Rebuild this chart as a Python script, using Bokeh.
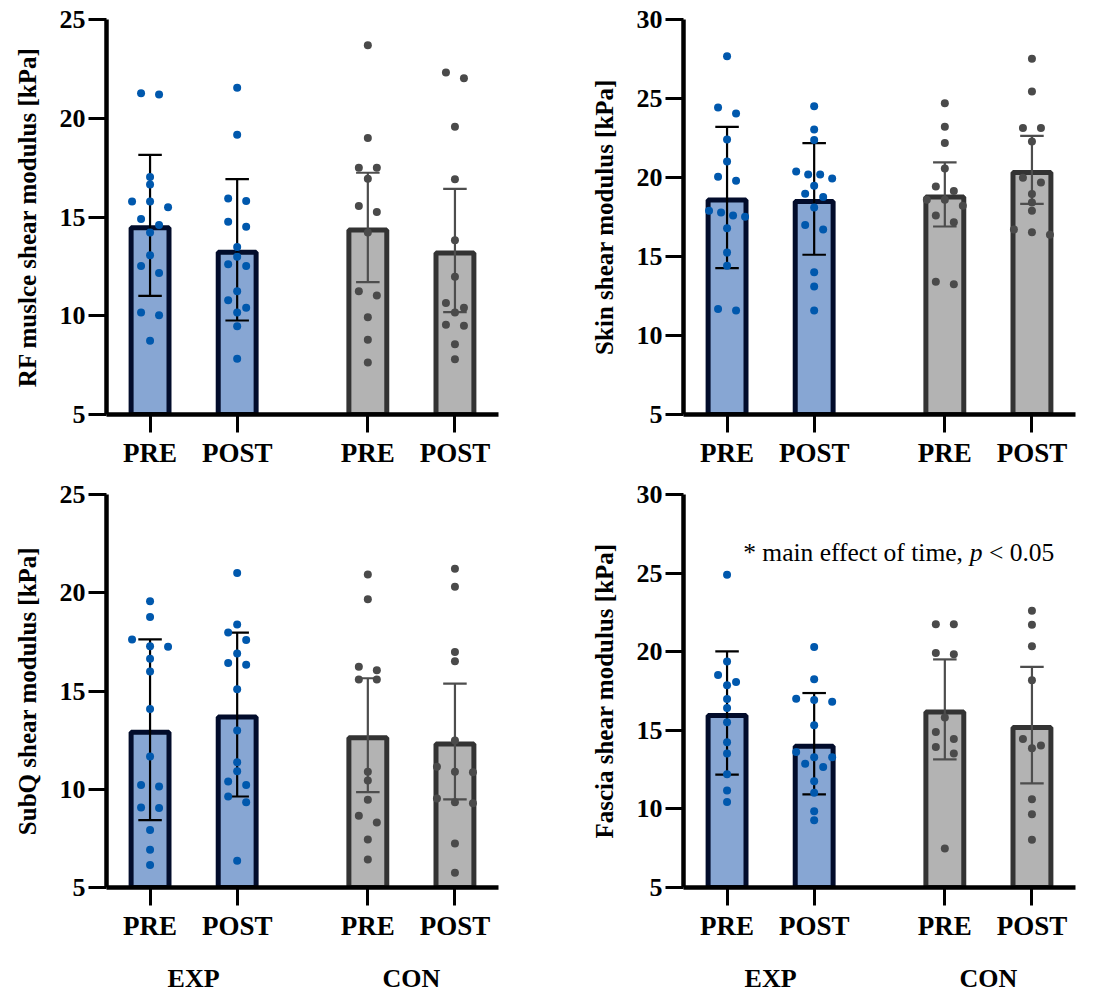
from bokeh.plotting import figure
from bokeh.models import Range1d, FixedTicker
from bokeh.layouts import column, row
from bokeh.embed import file_html
from bokeh.resources import INLINE
from bokeh.core.properties import value

# ---------------- data ----------------
TIMES = ["PRE", "POST", "PRE", "POST"]
GROUPS = ["EXP", "CON"]

RF_EXP_PRE = [21.20, 21.27, 17.02, 16.64, 15.79, 15.79, 15.49, 14.90, 14.60, 14.22, 13.06, 12.52, 12.17, 10.16, 10.03, 8.73]
RF_EXP_POST = [21.54, 19.17, 15.94, 15.81, 14.76, 14.51, 13.48, 12.99, 12.61, 12.52, 11.24, 10.78, 10.41, 10.16, 9.47, 7.82]
RF_CON_PRE = [23.70, 19.00, 17.50, 17.50, 16.94, 15.56, 15.25, 14.22, 11.24, 11.02, 9.92, 8.78, 7.63]
RF_CON_POST = [22.32, 22.03, 19.57, 16.91, 13.82, 11.98, 10.65, 10.41, 10.16, 9.54, 9.50, 8.56, 7.80]
RF_MEAN = [14.58, 13.34, 14.47, 13.30]
RF_SD = [3.57, 3.58, 2.77, 3.12]

SKIN_EXP_PRE = [27.68, 24.43, 24.05, 22.41, 21.01, 20.04, 19.79, 17.89, 17.78, 17.59, 17.51, 16.79, 15.25, 14.41, 11.67, 11.58]
SKIN_EXP_POST = [24.51, 23.04, 22.38, 20.38, 20.19, 20.19, 19.94, 19.47, 18.97, 18.76, 18.10, 17.00, 16.71, 14.01, 13.10, 11.58]
SKIN_CON_PRE = [24.70, 23.21, 22.19, 20.57, 19.43, 19.14, 18.59, 18.59, 18.21, 17.59, 17.17, 13.40, 13.25]
SKIN_CON_POST = [27.51, 25.44, 23.14, 23.14, 22.28, 19.98, 19.68, 18.95, 18.42, 17.89, 16.71, 16.54, 16.37]
SKIN_MEAN = [18.74, 18.64, 18.93, 20.48]
SKIN_SD = [4.47, 3.53, 2.03, 2.15]

SUBQ_EXP_PRE = [19.57, 18.76, 17.62, 17.28, 17.25, 16.64, 15.99, 14.08, 11.67, 10.21, 10.14, 9.07, 9.04, 7.92, 6.92, 6.15]
SUBQ_EXP_POST = [21.00, 18.38, 17.98, 17.60, 16.91, 16.43, 16.33, 15.09, 12.99, 11.38, 10.92, 10.39, 10.22, 9.63, 9.34, 6.36]
SUBQ_CON_PRE = [20.93, 19.67, 16.23, 16.06, 15.59, 15.59, 10.89, 10.45, 9.46, 8.65, 8.31, 7.44, 6.43]
SUBQ_CON_POST = [21.22, 20.30, 16.99, 16.52, 12.48, 11.14, 10.89, 10.87, 9.53, 9.34, 9.29, 7.24, 5.75]
SUBQ_MEAN = [13.03, 13.80, 12.75, 12.43]
SUBQ_SD = [4.60, 4.17, 2.90, 2.95]

FASCIA_EXP_PRE = [24.89, 19.38, 18.52, 18.07, 17.86, 16.99, 16.42, 15.51, 14.24, 13.52, 12.20, 11.17, 10.44]
FASCIA_EXP_POST = [20.30, 18.24, 17.01, 16.93, 16.82, 15.32, 13.62, 13.28, 13.28, 12.88, 12.67, 11.76, 11.02, 9.85, 9.28]
FASCIA_CON_PRE = [21.74, 21.74, 19.92, 19.83, 15.81, 14.89, 14.45, 13.94, 13.52, 7.48]
FASCIA_CON_POST = [22.61, 21.72, 20.34, 18.18, 14.45, 14.03, 13.86, 10.61, 9.66, 8.03]
FASCIA_MEAN = [16.10, 14.15, 16.33, 15.33]
FASCIA_SD = [3.92, 3.22, 3.18, 3.70]

Y_LABELS = ["RF muslce shear modulus [kPa]", "Skin shear modulus [kPa]",
            "SubQ shear modulus [kPa]", "Fascia shear modulus [kPa]"]
Y_MAX = [25, 30, 25, 30]
Y_TICKS_A = [5, 10, 15, 20, 25]
Y_TICKS_B = [5, 10, 15, 20, 25, 30]
NOTE_PARTS = ["* main effect of time,", "p", "< 0.05"]

# ---------------- style / layout ----------------
FONT = "Liberation Serif"
X_POS = [0, 2, 5, 7]
GROUP_POS = [1, 6]
X_MIN, X_MAX, Y_MIN = -1, 8, 5
FRAME_W = 392
FILL = ["#87a6d3", "#87a6d3", "#b3b3b3", "#b3b3b3"]
EDGE = ["#020c2b", "#020c2b", "#333333", "#333333"]
DOT = ["#0058ad", "#0058ad", "#4a4a4a", "#4a4a4a"]
ERR = ["#000000", "#000000", "#4d4d4d", "#4d4d4d"]

W1, W2 = 585, 505
BL1, BL2 = 106, 98
H1, T1, F1, B1 = 471, 19, 395, 57
H2, T2, F2, B2 = 473, 23, 393, 57
H3, LABEL_Y = 50, 16


def swarm(vals, ppy, ppx, d=7.5, span=36.0, step=18.0):
    order = sorted(range(len(vals)), key=lambda i: -vals[i])
    rows, cur, start = [], [], None
    for i in order:
        if cur and (start - vals[i]) * ppy < d:
            cur.append(i)
        else:
            if cur:
                rows.append(cur)
            cur, start = [i], vals[i]
    rows.append(cur)
    off = [0.0] * len(vals)
    for r in rows:
        k = len(r)
        if k > 1:
            s = min(step, span / (k - 1))
            for j, i in enumerate(r):
                off[i] = (j - (k - 1) / 2) * s / ppx
    return off


def panel(ylabel, ymax, yticks, pts, means, sds, width, height,
          bl, bt, bb, frame_h, note=False):
    p = figure(width=width, height=height, output_backend="svg", toolbar_location=None,
               x_range=Range1d(X_MIN, X_MAX), y_range=Range1d(Y_MIN, ymax),
               min_border_left=bl, min_border_right=width - bl - FRAME_W,
               min_border_top=bt, min_border_bottom=bb)
    p.outline_line_color = None
    p.xgrid.visible = False
    p.ygrid.visible = False
    p.background_fill_color = "white"
    p.border_fill_color = "white"

    ppx = FRAME_W / (X_MAX - X_MIN)
    ppy = frame_h / (ymax - Y_MIN)

    # bars (outline kept inside the mean)
    p.vbar(x=X_POS, width=0.87, bottom=Y_MIN,
           top=[m - 2.5 / ppy for m in means],
           fill_color=FILL, line_color=EDGE, line_width=5)

    # error bars (mean +/- SD)
    lo = [m - s for m, s in zip(means, sds)]
    hi = [m + s for m, s in zip(means, sds)]
    p.segment(x0=X_POS, y0=lo, x1=X_POS, y1=hi, line_color=ERR, line_width=2.2)
    cap = 0.27
    xl = [x - cap for x in X_POS]
    xr = [x + cap for x in X_POS]
    p.segment(x0=xl, y0=hi, x1=xr, y1=hi, line_color=ERR, line_width=2.2)
    p.segment(x0=xl, y0=lo, x1=xr, y1=lo, line_color=ERR, line_width=2.2)

    # individual points
    for k, vals in enumerate(pts):
        off = swarm(vals, ppy, ppx)
        xs = [X_POS[k] + o for o in off]
        p.scatter(x=xs, y=vals, size=8, fill_color=DOT[k], line_color=None)

    # axes
    for ax in (p.xaxis[0], p.yaxis[0]):
        ax.axis_line_width = 4.5
        ax.axis_line_color = "black"
        ax.major_tick_line_width = 3
        ax.major_tick_line_color = "black"
        ax.major_tick_in = 0
        ax.major_tick_out = 18
        ax.minor_tick_line_color = None
        ax.major_label_text_font = FONT
        ax.major_label_text_font_style = "bold"
        ax.major_label_text_color = "black"
    p.yaxis.ticker = FixedTicker(ticks=yticks, minor_ticks=[])
    p.yaxis.major_label_text_font_size = "26px"
    p.yaxis.major_label_standoff = 3
    p.yaxis.axis_label = ylabel
    p.yaxis.axis_label_text_font = FONT
    p.yaxis.axis_label_text_font_style = "bold"
    p.yaxis.axis_label_text_font_size = "25px"
    p.yaxis.axis_label_text_color = "black"
    p.yaxis.axis_label_standoff = 16

    p.xaxis.ticker = FixedTicker(ticks=X_POS, minor_ticks=[])
    ov = {}
    for xp, t in zip(X_POS, TIMES):
        ov[xp] = t
        ov[str(xp)] = t
    p.xaxis.major_label_overrides = ov
    p.xaxis.major_label_text_font_size = "27px"
    p.xaxis.major_label_standoff = 5

    if note:
        fs = 25.5
        x0 = 0.37
        y0 = 26.31
        offs = [0, 8.887 * fs, 9.637 * fs]
        styles = ["normal", "italic", "normal"]
        for part, xo, st in zip(NOTE_PARTS, offs, styles):
            p.text(x=[x0], y=[y0], text=[part], x_offset=xo, text_font=value(FONT),
                   text_font_style=st, text_font_size=f"{fs}px", text_align="left",
                   text_baseline="middle", text_color="black")
    return p


def group_strip(width, bl):
    s = figure(width=width, height=H3, output_backend="svg", toolbar_location=None,
               x_range=Range1d(X_MIN, X_MAX), y_range=Range1d(0, H3),
               min_border_left=bl, min_border_right=width - bl - FRAME_W,
               min_border_top=0, min_border_bottom=0,
               x_axis_type=None, y_axis_type=None)
    s.outline_line_color = None
    s.xgrid.visible = False
    s.ygrid.visible = False
    s.text(x=GROUP_POS, y=[LABEL_Y] * len(GROUP_POS), text=GROUPS,
           text_font=value(FONT), text_font_style="bold", text_font_size="26px",
           text_align="center", text_baseline="middle", text_color="black")
    return s


p1 = panel(Y_LABELS[0], Y_MAX[0], Y_TICKS_A,
           [RF_EXP_PRE, RF_EXP_POST, RF_CON_PRE, RF_CON_POST], RF_MEAN, RF_SD,
           W1, H1, BL1, T1, B1, F1)
p2 = panel(Y_LABELS[1], Y_MAX[1], Y_TICKS_B,
           [SKIN_EXP_PRE, SKIN_EXP_POST, SKIN_CON_PRE, SKIN_CON_POST], SKIN_MEAN, SKIN_SD,
           W2, H1, BL2, T1, B1, F1)
p3 = panel(Y_LABELS[2], Y_MAX[2], Y_TICKS_A,
           [SUBQ_EXP_PRE, SUBQ_EXP_POST, SUBQ_CON_PRE, SUBQ_CON_POST], SUBQ_MEAN, SUBQ_SD,
           W1, H2, BL1, T2, B2, F2)
p4 = panel(Y_LABELS[3], Y_MAX[3], Y_TICKS_B,
           [FASCIA_EXP_PRE, FASCIA_EXP_POST, FASCIA_CON_PRE, FASCIA_CON_POST], FASCIA_MEAN, FASCIA_SD,
           W2, H2, BL2, T2, B2, F2, note=True)
s3 = group_strip(W1, BL1)
s4 = group_strip(W2, BL2)

layout = column(row(p1, p2), row(p3, p4), row(s3, s4))
open("out.html", "w").write(file_html(layout, INLINE))
